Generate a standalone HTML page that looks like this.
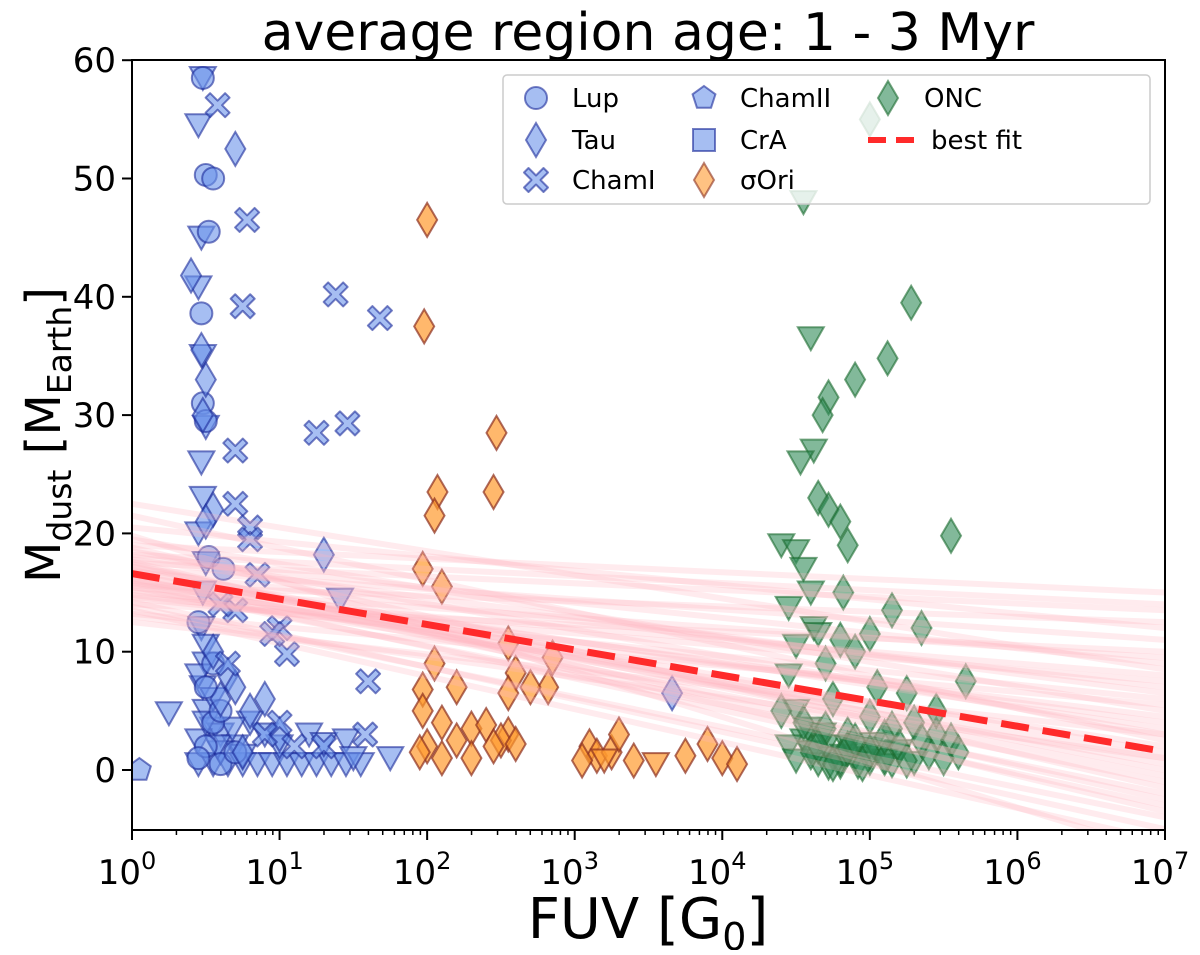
<!DOCTYPE html>
<html><head><meta charset="utf-8"><style>
body{margin:0;background:#fff}
svg text{font-family:"DejaVu Sans","Liberation Sans",sans-serif;fill:#000}
</style></head><body>
<svg id="c" width="1200" height="950" viewBox="0 0 1200 950">
<text x="648" y="50" font-size="52" text-anchor="middle">average region age: 1 - 3 Myr</text>
<clipPath id="clip"><rect x="132" y="60" width="1033" height="770"/></clipPath>
<g id="marks" clip-path="url(#clip)"></g>
<g id="band" clip-path="url(#clip)"></g>
<g id="fit" clip-path="url(#clip)"></g>
<rect x="132" y="60" width="1033" height="770" fill="none" stroke="#000" stroke-width="2"/>
<g id="axes"></g>
<text x="648" y="938" font-size="56" text-anchor="middle">FUV [G<tspan font-size="38" dy="12">0</tspan><tspan dy="-12">]</tspan></text>
<text transform="translate(60,435) rotate(-90)" font-size="48" text-anchor="middle">M<tspan font-size="33" dy="11">dust</tspan><tspan dy="-11"> [M</tspan><tspan font-size="33" dy="11">Earth</tspan><tspan dy="-11">]</tspan></text>
<g id="legend"></g>
</svg>
<script>
const xTicks=[0,1,2,3,4,5,6,7];
const yTicks=[0,10,20,30,40,50,60];
const lup=[[0.48,58.5],[0.5,50.3],[0.55,50],[0.52,45.5],[0.47,38.6],[0.48,31],[0.5,29.5],[0.52,18],[0.62,17],[0.45,12.5],[0.5,7],[0.55,4],[0.5,2],[0.45,1],[0.6,0.5],[0.7,1.5],[0.55,9],[0.6,5]];
const tau=[[0.7,52.5],[0.4,41.8],[0.47,35.5],[0.5,33],[0.48,30],[0.55,22],[0.5,21],[1.3,18.2],[0.55,10],[0.65,8],[0.8,5],[1.0,3],[0.75,1.5],[0.6,6],[3.66,6.5],[0.7,7],[0.9,6]];
const chamI=[[0.58,56.2],[0.78,46.5],[0.75,39.2],[1.38,40.2],[1.68,38.2],[1.25,28.5],[1.46,29.3],[0.7,27],[0.7,22.5],[0.8,20.5],[0.85,16.5],[1.0,12],[1.05,9.8],[1.6,7.5],[1.58,3],[0.95,11.5],[0.7,13.5],[1.0,4],[1.3,2],[0.8,19.5],[0.6,14],[0.65,9],[0.9,3],[1.1,2]];
const chamII=[[0.05,0]];
const blueLim=[[0.48,58.5],[0.45,54.5],[0.47,45],[0.45,40.8],[0.48,35],[0.5,29],[0.47,26],[0.48,23],[0.45,20],[0.5,17.5],[0.48,15],[0.47,12],[0.5,9],[0.48,7],[0.5,5],[0.55,3.5],[0.25,4.8],[1.75,1],[1.41,14.4],[0.6,3],[0.7,2],[0.45,0.5],[0.55,0.5],[0.65,0.5],[0.75,0.5],[0.85,0.5],[0.95,0.5],[1.05,0.5],[1.15,0.5],[1.25,0.5],[1.35,0.5],[1.45,0.5],[1.55,0.5],[1.2,3],[1.3,2.2],[1.45,2.5],[1.5,1],[1.0,2],[0.9,3],[0.8,4],[0.6,1.5],[0.45,2.5],[0.5,4],[0.55,6],[0.45,8],[0.5,10.5],[0.58,2],[0.68,3.5],[0.75,1.2]];
const sOri=[[2,46.5],[1.98,37.5],[2.47,28.5],[2.07,23.5],[2.05,21.5],[2.45,23.5],[2.1,15.5],[1.97,17],[2.05,9],[2.55,10.7],[2.85,9.5],[2.6,8.2],[2.82,7],[2.55,6.5],[1.97,6.8],[2.2,7],[1.97,5],[2.1,4],[2.3,3.5],[2.4,3.8],[2.55,3],[2.5,2.5],[2.2,2.5],[2.0,2],[1.95,1.5],[2.1,1],[2.3,1],[2.45,2],[2.6,2.2],[3.1,2],[3.15,1.2],[3.25,1.5],[3.3,3],[3.4,0.8],[3.05,0.8],[3.9,2.2],[4.0,1],[4.1,0.5],[3.75,1.2],[2.7,7]];
const sOriLim=[[3.55,0.5],[3.2,0.8]];
const onc=[[5.0,55],[5.28,39.5],[5.12,34.8],[4.9,33],[4.72,31.5],[4.68,30],[4.65,23],[4.72,22],[4.8,21],[4.85,19],[5.55,19.8],[4.82,15],[5.15,13.5],[5.35,12],[5.0,11.5],[4.8,11],[4.9,10],[5.65,7.5],[4.7,9],[4.4,5],[4.55,4],[4.7,3.5],[4.85,3],[5.0,4.5],[5.15,3.5],[5.3,4],[5.45,3],[5.55,2.5],[5.2,2],[5.0,1.5],[4.8,1],[4.6,1.5],[4.95,0.5],[5.4,1.5],[5.6,1.5],[4.75,6],[5.05,7],[5.25,6.5],[5.45,5],[4.65,2],[4.75,0.5],[4.85,1.8],[5.1,1],[5.25,0.8],[5.35,2.5],[5.5,1],[4.9,2.5],[5.1,2.8]];
const oncLim=[[4.55,48],[4.6,36.5],[4.62,27],[4.53,26],[4.4,19],[4.5,18.5],[4.55,17],[4.6,15],[4.45,13.7],[4.62,12],[4.65,11.5],[4.5,10.5],[4.45,8],[4.5,5],[4.55,2.5],[4.6,1.5],[4.65,0.5],[4.7,2],[4.75,1],[4.8,0.3],[4.85,2],[4.9,1],[4.95,1.8],[5.0,0.6],[5.05,1.5],[5.1,0.8],[4.45,2],[4.5,0.8],[4.58,3.5],[4.68,3],[4.72,0.2],[4.82,1.2],[4.92,0.3],[5.02,2.2],[5.15,0.4],[5.2,1.6],[5.3,0.6]];
const fitIntercept=16.6, fitSlope=-2.15;
// band sample lines: value at FUV=1 and at FUV=1e7
const bandStart=[13.0,17.5,14.5,19.0,15.5,16.0,18.0,13.8,16.8,15.2,17.2,14.0,19.5,16.2,15.0,18.5,13.5,17.0,16.5,14.8,20.5,15.8,17.8,14.2,16.4,18.8,15.4,21.5,13.2,17.4,16.0,14.6,19.8,15.6,16.9,22.5,12.5,18.2,15.9,17.6];
const bandEnd=[1.0,13.5,6.0,15.0,-2.0,4.0,9.0,-4.0,7.0,2.0,0.0,10.0,5.0,-1.0,8.0,3.0,-6.0,11.0,1.5,4.5,12.0,-3.0,6.5,-5.0,3.5,-1.5,9.5,2.5,5.5,-2.5,0.5,7.5,-7.0,12.5,-0.5,8.5,3.0,14.0,1.0,-3.5];

const X=l=>132+l*147.57, Y=v=>770-v*11.83;
const NS='http://www.w3.org/2000/svg';
function mk(t,a,p){const e=document.createElementNS(NS,t);for(const k in a)e.setAttribute(k,a[k]);p.appendChild(e);return e;}
function shape(kind,cx,cy,fill,stroke,op,p){
  let e;
  if(kind==='circle'){e=mk('circle',{cx,cy,r:11},p);}
  else if(kind==='diamond'){e=mk('polygon',{points:`${cx},${cy-17} ${cx+10},${cy} ${cx},${cy+17} ${cx-10},${cy}`},p);}
  else if(kind==='tri'){e=mk('polygon',{points:`${cx-13},${cy-11} ${cx+13},${cy-11} ${cx},${cy+12}`},p);}
  else if(kind==='pent'){let pts=[];for(let i=0;i<5;i++){const a=-Math.PI/2+i*2*Math.PI/5;pts.push((cx+12*Math.cos(a))+','+(cy+12*Math.sin(a)));}e=mk('polygon',{points:pts.join(' ')},p);}
  else if(kind==='square'){e=mk('rect',{x:cx-11,y:cy-11,width:22,height:22},p);}
  else if(kind==='cross'){const s=4.5,w=12;e=mk('path',{d:`M${cx-w+s} ${cy-w} L${cx} ${cy-s} L${cx+w-s} ${cy-w} L${cx+w} ${cy-w+s} L${cx+s} ${cy} L${cx+w} ${cy+w-s} L${cx+w-s} ${cy+w} L${cx} ${cy+s} L${cx-w+s} ${cy+w} L${cx-w} ${cy+w-s} L${cx-s} ${cy} L${cx-w} ${cy-w+s}Z`,'stroke-linejoin':'round'},p);}
  e.setAttribute('fill',fill);e.setAttribute('stroke',stroke);e.setAttribute('stroke-width','2');
  e.setAttribute('fill-opacity',op);e.setAttribute('stroke-opacity',op);
  return e;
}
const BF='#6b93ea',BS='#1a2a9a',OF='#ff9a2e',OS='#8b2e1e',GF='#2e8b57',GS='#1a6b2e';
const M=document.getElementById('marks');
function series(arr,kind,f,s,op,name){arr.forEach(d=>{const e=shape(kind,X(d[0]),Y(d[1]),f,s,op,M);

});}
series(blueLim,'tri',BF,BS,0.6,'blue-upper-limit');
series(lup,'circle',BF,BS,0.6,'lup-point');
series(tau,'diamond',BF,BS,0.6,'tau-point');
series(chamI,'cross',BF,BS,0.6,'chami-point');
series(chamII,'pent',BF,BS,0.6,'chamii-point');
series(sOri,'diamond',OF,OS,0.7,'sori-point');
series(sOriLim,'tri',OF,OS,0.7,'sori-upper-limit');
series(oncLim,'tri',GF,GS,0.6,'onc-upper-limit');
series(onc,'diamond',GF,GS,0.6,'onc-point');

const B=document.getElementById('band');
bandStart.forEach((s,i)=>{
const e=mk('line',{x1:X(0),y1:Y(s),x2:X(7),y2:Y(bandEnd[i]),stroke:'#ffb6c1','stroke-opacity':0.28,'stroke-width':6},B);

});
const F=document.getElementById('fit');
const fl=mk('line',{x1:X(0),y1:Y(fitIntercept),x2:X(7),y2:Y(fitIntercept+fitSlope*7),stroke:'#ff2a2a','stroke-width':7,'stroke-dasharray':'28 14'},F);



const A=document.getElementById('axes');
xTicks.forEach(t=>{const x=X(t);
const tk=mk('line',{x1:x,y1:830,x2:x,y2:840,stroke:'#000','stroke-width':2},A);


const tx=mk('text',{x:x-5,y:884,'font-size':34,'text-anchor':'middle'},A);


tx.innerHTML='10<tspan font-size="24" dy="-15">'+t+'</tspan>';
for(let k=2;k<10&&t<7;k++){const mx=X(t+Math.log10(k));mk('line',{x1:mx,y1:830,x2:mx,y2:835,stroke:'#000','stroke-width':1.5},A);}
});
yTicks.forEach(t=>{const y=Y(t);
const tk=mk('line',{x1:122,y1:y,x2:132,y2:y,stroke:'#000','stroke-width':2},A);


const tx=mk('text',{x:116,y:y+12,'font-size':34,'text-anchor':'end'},A);


tx.textContent=t;});

const L=document.getElementById('legend');
const lb=mk('rect',{x:503,y:75,width:647,height:129,rx:4,fill:'#fff','fill-opacity':0.8,stroke:'#ccc','stroke-width':1.5},L);


const ents=[['circle',BF,BS,'Lup',536,98],['diamond',BF,BS,'Tau',536,140],['cross',BF,BS,'ChamI',536,180],['pent',BF,BS,'ChamII',704,98],['square',BF,BS,'CrA',704,140],['diamond',OF,OS,'σOri',704,180],['diamond',GF,GS,'ONC',888,98]];
ents.forEach(e=>{const g=mk('g',{},L);


shape(e[0],e[4],e[5],e[1],e[2],0.6,g);
const t=mk('text',{x:e[4]+36,y:e[5]+9,'font-size':26},g);t.textContent=e[3];});
const g2=mk('g',{},L);


mk('line',{x1:868,y1:140,x2:914,y2:140,stroke:'#ff2a2a','stroke-width':6,'stroke-dasharray':'18 10'},g2);
const t2=mk('text',{x:931,y:149,'font-size':26},g2);t2.textContent='best fit';
</script>
</body></html>
